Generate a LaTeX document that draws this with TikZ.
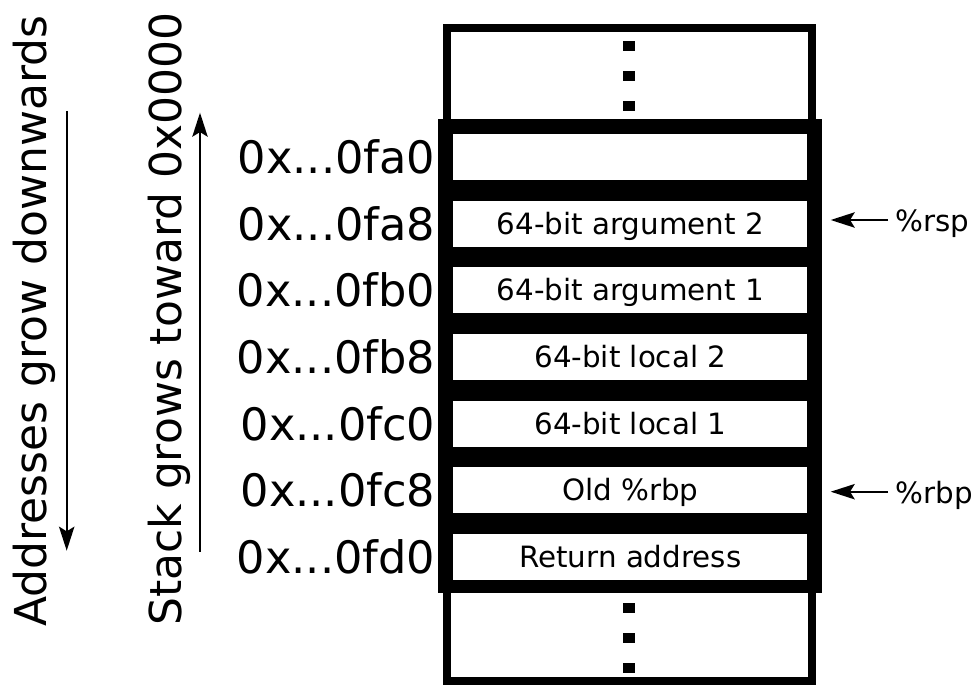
\documentclass[tikz,border=0pt]{standalone}
\usepackage{fontspec}
\setmainfont{DejaVu Sans}
\usetikzlibrary{arrows.meta}

\tikzset{
  outerbox/.style={draw=black, line width=5.7pt, fill=white},
  cellbox/.style={fill=white, draw=none, inner sep=0pt,
    minimum width=265.5pt, minimum height=34.5pt,
    text height=16pt, text depth=0pt,
    font=\fontsize{22pt}{26pt}\selectfont},
  addr/.style={anchor=base east, inner sep=0pt,
    font=\fontsize{33.5pt}{40pt}\selectfont},
  sidelabel/.style={rotate=90, anchor=base west, inner sep=0pt,
    font=\fontsize{33pt}{40pt}\selectfont},
  reglabel/.style={anchor=base west, inner sep=0pt,
    font=\fontsize{22pt}{26pt}\selectfont},
  ptr/.style={-{Stealth[length=18pt,width=11.5pt,inset=3.5pt]}, line width=1.7pt},
  dotmark/.style={fill=black, draw=none, inner sep=0pt,
    minimum width=8.75pt, minimum height=7.5pt}
}

\begin{document}
\begin{tikzpicture}[x=0.75pt, y=-0.75pt]
\useasboundingbox (0,0) rectangle (979,685);

% whole stack region, continuing above and below
\draw[outerbox] (447,28) rectangle (812,681);

% the current frame: thick black frame around the slots
\fill[black] (438.3,119) rectangle (822.3,593.3);

% stack slots
\node[cellbox] (c1) at (630.3,157.0) {};
\node[cellbox] (c2) at (630.3,223.7) {64-bit argument 2};
\node[cellbox] (c3) at (630.3,290.3) {64-bit argument 1};
\node[cellbox] (c4) at (630.3,357.0) {64-bit local 2};
\node[cellbox] (c5) at (630.3,423.7) {64-bit local 1};
\node[cellbox] (c6) at (630.3,490.3) {Old \%rbp};
\node[cellbox] (c7) at (630.3,557.0) {Return address};

% continuation marks
\node[dotmark] (d1) at (629.2,46.0) {};
\node[dotmark] (d2) at (629.2,76.0) {};
\node[dotmark] (d3) at (629.2,105.7) {};
\node[dotmark] (d4) at (629.2,608.3) {};
\node[dotmark] (d5) at (629.2,638.3) {};
\node[dotmark] (d6) at (629.2,667.7) {};

% addresses
\node[addr] (a1) at (435.5,173.5) {0x...0fa0};
\node[addr] (a2) at (435.5,240.2) {0x...0fa8};
\node[addr] (a3) at (435.5,306.8) {0x...0fb0};
\node[addr] (a4) at (435.5,373.5) {0x...0fb8};
\node[addr] (a5) at (435.5,440.2) {0x...0fc0};
\node[addr] (a6) at (435.5,506.8) {0x...0fc8};
\node[addr] (a7) at (435.5,573.5) {0x...0fd0};

% register pointers
\node[reglabel] (rsp) at (895.4,231.7) {\%rsp};
\node[reglabel] (rbp) at (895.4,503.4) {\%rbp};
\coordinate (rsptail) at (888,220);
\coordinate (rsptip) at (830.7,220);
\coordinate (rbptail) at (888,491.7);
\coordinate (rbptip) at (830.7,491.7);
\draw[ptr] (rsptail) -- (rsptip);
\draw[ptr] (rbptail) -- (rbptip);

% direction notes
\node[sidelabel] (addrnote) at (46.7,627) {Addresses grow downwards};
\node[sidelabel] (stacknote) at (181.7,626) {Stack grows toward 0x0000};
\coordinate (downtop) at (66.7,111);
\coordinate (downtip) at (66.7,550.7);
\coordinate (upbottom) at (200,551.7);
\coordinate (uptip) at (200,112.7);
\draw[ptr] (downtop) -- (downtip);
\draw[ptr] (upbottom) -- (uptip);
\end{tikzpicture}
\end{document}
